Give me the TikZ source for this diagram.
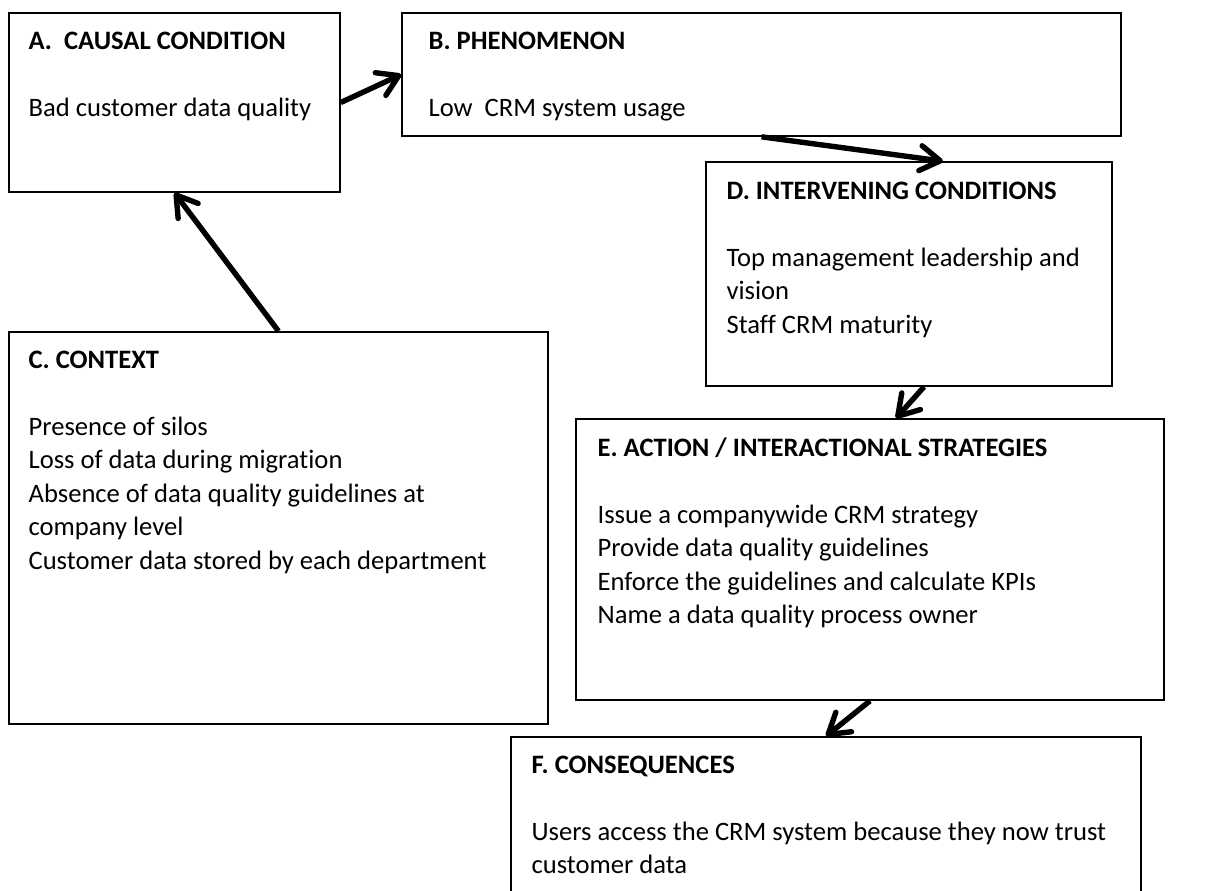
\documentclass[tikz,border=0pt]{standalone}
\usepackage{fontspec}
\setmainfont{Carlito}[Ligatures=NoCommon]
\usetikzlibrary{calc,arrows.meta}

\begin{document}
\begin{tikzpicture}[x=0.5pt,y=-0.5pt,
	box/.style={draw,line width=0.8pt,inner sep=0pt},
	txt/.style={anchor=north west,align=left,inner sep=0pt,font=\fontsize{13.3}{16.75}\selectfont},
	link/.style={line width=2.7pt,-{Straight Barb[length=10pt,width=12.5pt,line cap=round,line join=round]}}]
	\useasboundingbox (0,0) rectangle (1221,890);\clip (0,0) rectangle (1221,890);
	% boxes
	\node[box,minimum width=165.5pt,minimum height=89.5pt] (A) at (174.5,102.5) {};
	\node[box,minimum width=359.5pt,minimum height=61.5pt] (B) at (761.5,74.5) {};
	\node[box,minimum width=203pt,minimum height=112pt] (D) at (909,274) {};
	\node[box,minimum width=269.5pt,minimum height=196pt] (C) at (278.5,528) {};
	\node[box,minimum width=294pt,minimum height=140.5pt] (E) at (870,559.5) {};
	\node[box,minimum width=315pt,minimum height=86.5pt] (F) at (826,823.5) {};
	% texts
	\node[txt] (Atxt) at ($(A.north west)+(20,19)$) {\textbf{A.\ \ CAUSAL CONDITION}\\[16.75pt]Bad customer data quality};
	\node[txt] (Btxt) at ($(B.north west)+(27,19)$) {\textbf{B. PHENOMENON}\\[16.75pt]Low\ \ CRM system usage};
	\node[txt] (Dtxt) at ($(D.north west)+(21,20)$) {\textbf{D. INTERVENING CONDITIONS}\\[16.75pt]Top management leadership and\\vision\\Staff CRM maturity};
	\node[txt] (Ctxt) at ($(C.north west)+(20,19)$) {\textbf{C. CONTEXT}\\[16.75pt]Presence of silos\\Loss of data during migration\\Absence of data quality guidelines at\\company level\\Customer data stored by each department};
	\node[txt] (Etxt) at ($(E.north west)+(22,19)$) {\textbf{E. ACTION / INTERACTIONAL STRATEGIES}\\[16.75pt]Issue a companywide CRM strategy\\Provide data quality guidelines\\Enforce the guidelines and calculate KPIs\\Name a data quality process owner};
	\node[txt] (Ftxt) at ($(F.north west)+(21,19)$) {\textbf{F. CONSEQUENCES}\\[16.75pt]Users access the CRM system because they now trust\\customer data};
	% arrows
	\draw[link] (A.east) -- (B.west);
	\draw[link] (B.south) -- ($(D.north)+(34,0)$);
	\draw[link] (C.north) -- (A.south);
	\draw[link] ($(D.south)+(15,0)$) -- ($(E.north)+(26,0)$);
	\draw[link] (E.south) -- (F.north);
\end{tikzpicture}
\end{document}
